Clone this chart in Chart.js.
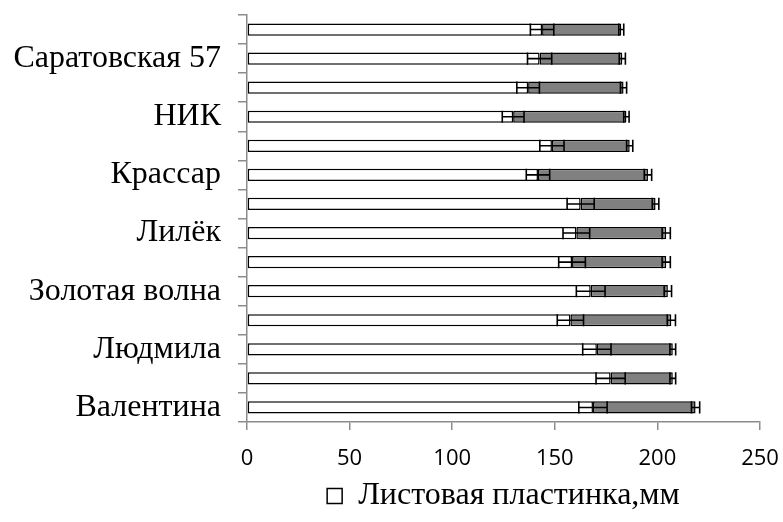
<!DOCTYPE html>
<html>
<head>
<meta charset="utf-8">
<script src="https://cdn.jsdelivr.net/npm/chart.js@4.4.1/dist/chart.umd.min.js"></script>
<style>
html,body{margin:0;padding:0;background:#fff;}
#wrap{width:783px;height:522px;position:relative;}
</style>
</head>
<body>
<div id="wrap"><canvas id="c" width="783" height="522"></canvas></div>
<script>
// Categories, top to bottom (only every other name is shown on the axis)
const categories = ['', 'Саратовская 57', '', 'НИК', '', 'Крассар', '', 'Лилёк', '', 'Золотая волна', '', 'Людмила', '', 'Валентина'];
// Leaf blade length, mm (white segment)
const bladeLength = [143.8, 142.6, 137.0, 129.7, 148.6, 141.8, 162.6, 160.5, 158.4, 167.5, 157.6, 170.5, 177.2, 168.6];
const bladeError  = [5.7, 5.9, 5.5, 5.3, 5.9, 5.7, 6.6, 6.5, 6.5, 7.0, 6.4, 6.9, 7.1, 6.9];
// Total leaf length, mm (end of grey segment)
const totalLength = [182.4, 182.9, 183.5, 184.9, 186.5, 195.4, 199.1, 204.3, 204.3, 205.1, 206.8, 207.5, 207.5, 218.6];
const totalError  = [1.2, 1.5, 1.5, 1.3, 1.5, 1.8, 1.6, 2.0, 2.0, 1.8, 2.0, 1.4, 1.4, 2.0];
const xTicks = [0, 50, 100, 150, 200, 250];
const legendLabel = 'Листовая пластинка,мм';

const restLength = totalLength.map((t, i) => +(t - bladeLength[i]).toFixed(1));

const errorBars = {
  id: 'errorBars',
  beforeDraw(chart) {
    // centre the legend under the plot area
    if (chart.legend) {
      chart.legend.left = chart.chartArea.left;
      chart.legend.right = chart.chartArea.right;
    }
  },
  afterDatasetsDraw(chart) {
    const ctx = chart.ctx;
    const xs = chart.scales.x;
    const meta0 = chart.getDatasetMeta(0);
    ctx.save();
    ctx.strokeStyle = '#000';
    ctx.lineWidth = 1.6;
    const draw = (val, err, el) => {
      const y = el.y;
      const h = el.height;
      const x1 = xs.getPixelForValue(val - err);
      const x2 = xs.getPixelForValue(val + err);
      ctx.beginPath();
      ctx.moveTo(x1, y); ctx.lineTo(x2, y);
      ctx.moveTo(x1, y - h / 2); ctx.lineTo(x1, y + h / 2);
      ctx.moveTo(x2, y - h / 2); ctx.lineTo(x2, y + h / 2);
      ctx.stroke();
    };
    meta0.data.forEach((el, i) => {
      draw(bladeLength[i], bladeError[i], el);
      draw(totalLength[i], totalError[i], el);
    });
    ctx.restore();
  }
};

new Chart(document.getElementById('c'), {
  type: 'bar',
  data: {
    labels: categories,
    datasets: [
      { label: legendLabel, data: bladeLength, backgroundColor: '#ffffff', borderColor: '#000000', borderWidth: 1.5, borderSkipped: false },
      { label: 'grey', data: restLength, backgroundColor: '#808080', borderColor: '#000000', borderWidth: 1.5, borderSkipped: false }
    ]
  },
  options: {
    indexAxis: 'y',
    responsive: false,
    animation: false,
    devicePixelRatio: 1,
    layout: { padding: { top: 15, right: 23, left: 0, bottom: 0 } },
    datasets: { bar: { categoryPercentage: 1, barPercentage: 0.42 } },
    scales: {
      x: {
        stacked: true, min: 0, max: 250,
        afterBuildTicks(s) { s.ticks = xTicks.map(v => ({ value: v })); },
        grid: { display: true, drawOnChartArea: false, drawTicks: true, tickLength: 8, color: '#8c8c8c', lineWidth: 1.5 },
        border: { display: true, color: '#8c8c8c', width: 1.5 },
        ticks: { color: '#000', font: { family: 'Open Sans', size: 22 }, padding: 16, maxRotation: 0 },
        afterFit(s) { s.height = 52; s.paddingLeft = 0; s.paddingRight = 0; }
      },
      y: {
        stacked: true,
        grid: { display: true, drawOnChartArea: false, drawTicks: true, tickLength: 9, color: '#8c8c8c', lineWidth: 1.5, offset: true },
        border: { display: true, color: '#8c8c8c', width: 1.5 },
        ticks: { autoSkip: false, color: '#000', font: { family: 'Liberation Serif', size: 32 }, padding: 17 },
        afterFit(s) { s.width = 247; s.paddingTop = 0; s.paddingBottom = 0; }
      }
    },
    plugins: {
      legend: {
        position: 'bottom',
        labels: {
          filter: item => item.datasetIndex === 0,
          color: '#000',
          font: { family: 'Liberation Serif', size: 32 },
          boxWidth: 15, boxHeight: 15, padding: 6
        }
      },
      tooltip: { enabled: false }
    }
  },
  plugins: [errorBars]
});
</script>
</body>
</html>
